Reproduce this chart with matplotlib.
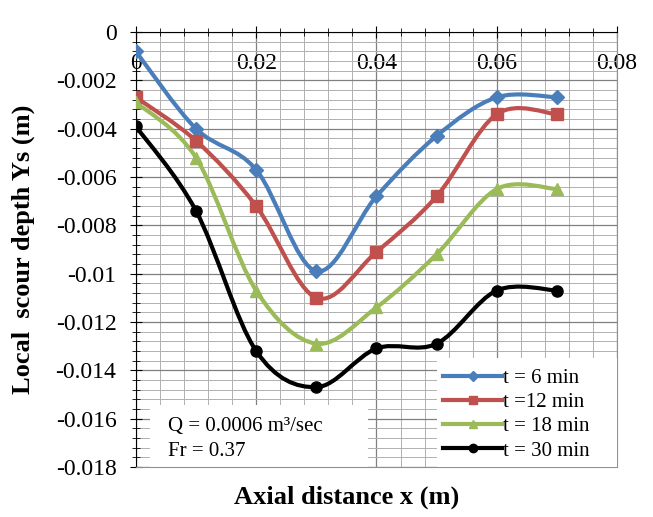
import numpy as np
import matplotlib
matplotlib.use("Agg")
import matplotlib.pyplot as plt
from matplotlib.path import Path
from matplotlib.patches import PathPatch, Rectangle
from matplotlib.ticker import MultipleLocator, FuncFormatter

# ── data ────────────────────────────────────────────────────────────────────
x_pos = [0.0, 0.01, 0.02, 0.03, 0.04, 0.05, 0.06, 0.07]
ys_t6 = [-0.0008, -0.0040, -0.0057, -0.0099, -0.0068, -0.0043, -0.0027, -0.0027]
ys_t12 = [-0.0027, -0.0045, -0.0072, -0.0110, -0.0091, -0.0068, -0.0034, -0.0034]
ys_t18 = [-0.0029, -0.0052, -0.0107, -0.0129, -0.0114, -0.0092, -0.0065, -0.0065]
ys_t30 = [-0.0039, -0.0074, -0.0132, -0.0147, -0.0131, -0.0129, -0.0107, -0.0107]
labels = ["t = 6 min", "t =12 min", "t = 18 min", "t = 30 min"]

plt.rcParams["font.family"] = ["Liberation Serif", "DejaVu Serif"]


def smooth_path(xs, ys):
    """Excel風のスムーズ線: Catmull-Rom → Bezier 制御点"""
    p = np.column_stack([xs, ys])
    verts = [p[0]]
    codes = [Path.MOVETO]
    n = len(p)
    for i in range(n - 1):
        p0 = p[i - 1] if i > 0 else p[i]
        p3 = p[i + 2] if i + 2 < n else p[i + 1]
        c1 = p[i] + (p[i + 1] - p0) / 6
        c2 = p[i + 1] - (p3 - p[i]) / 6
        verts += [c1, c2, p[i + 1]]
        codes += [Path.CURVE4] * 3
    return Path(verts, codes)


fig = plt.figure(figsize=(6.53, 5.17), dpi=100)
ax = fig.add_axes([0.208, 0.097, 0.737, 0.841])

series = [
    (ys_t6, "#4A7EBB", "D", 7),
    (ys_t12, "#C0504D", "s", 8),
    (ys_t18, "#9BBB59", "^", 8),
    (ys_t30, "black", "o", 8),
]
handles = []
for (ys, c, m, ms), lab in zip(series, labels):
    ax.add_patch(PathPatch(smooth_path(x_pos, ys), fill=False, edgecolor=c,
                           lw=3, zorder=3, capstyle="round"))
    ax.plot(x_pos, ys, ls="none", marker=m, ms=ms, color=c, zorder=4)
    h, = ax.plot([], [], color=c, lw=3, marker=m, ms=ms - 2)
    handles.append(h)

ax.set_xlim(0, 0.08)
ax.set_ylim(-0.018, 0)

ax.xaxis.set_major_locator(MultipleLocator(0.02))
ax.xaxis.set_minor_locator(MultipleLocator(0.004))
ax.yaxis.set_major_locator(MultipleLocator(0.002))
ax.yaxis.set_minor_locator(MultipleLocator(0.0004))
ax.xaxis.set_major_formatter(FuncFormatter(lambda v, _: f"{v:g}"))
ax.yaxis.set_major_formatter(FuncFormatter(lambda v, _: f"{v:g}" if abs(v) > 1e-12 else "0"))

ax.tick_params(axis="x", which="both", top=True, bottom=False, labeltop=True,
               labelbottom=False, direction="inout", pad=-34, labelsize=17)
ax.tick_params(axis="x", which="major", length=8)
ax.tick_params(axis="x", which="minor", length=6)
ax.tick_params(axis="y", which="both", direction="inout", labelsize=17, pad=10)
ax.tick_params(axis="y", which="major", length=8)
ax.tick_params(axis="y", which="minor", length=6)

ax.grid(True, which="major", color="#808080", lw=0.9)
ax.grid(True, which="minor", color="#B0B0B0", lw=0.7)
ax.set_axisbelow(True)

ax.spines["top"].set_color("black")
ax.spines["left"].set_color("black")
ax.spines["right"].set_color("#909090")
ax.spines["bottom"].set_color("#909090")

ax.set_xlabel("Axial distance x (m)", fontsize=19, fontweight="bold")
ax.xaxis.set_label_coords(0.437, -0.042, transform=ax.transAxes)
ax.xaxis.label.set_va("top")
ax.set_ylabel("Local  scour depth Ys (m)", fontsize=19, fontweight="bold", labelpad=15)

# 注記ボックス
ax.add_patch(Rectangle((0.0023, -0.018), 0.0363, 0.00257, facecolor="white",
                       edgecolor="none", zorder=2))
ax.text(0.0053, -0.01634, "Q = 0.0006 m³/sec", fontsize=15, va="center", zorder=5)
ax.text(0.0053, -0.01738, "Fr = 0.37", fontsize=15, va="center", zorder=5)

# 凡例の白背景
ax.add_patch(Rectangle((0.0501, -0.018), 0.0299, 0.00451, facecolor="white",
                       edgecolor="none", zorder=5))
leg = ax.legend(handles, labels, loc="lower left", bbox_to_anchor=(0.0501, -0.018),
                bbox_transform=ax.transData, fontsize=15, frameon=False,
                handlelength=2.8, handletextpad=0.05, labelspacing=0.22,
                borderaxespad=0.0, borderpad=0.3)
leg.set_zorder(6)

fig.savefig("out.png", dpi=100)
